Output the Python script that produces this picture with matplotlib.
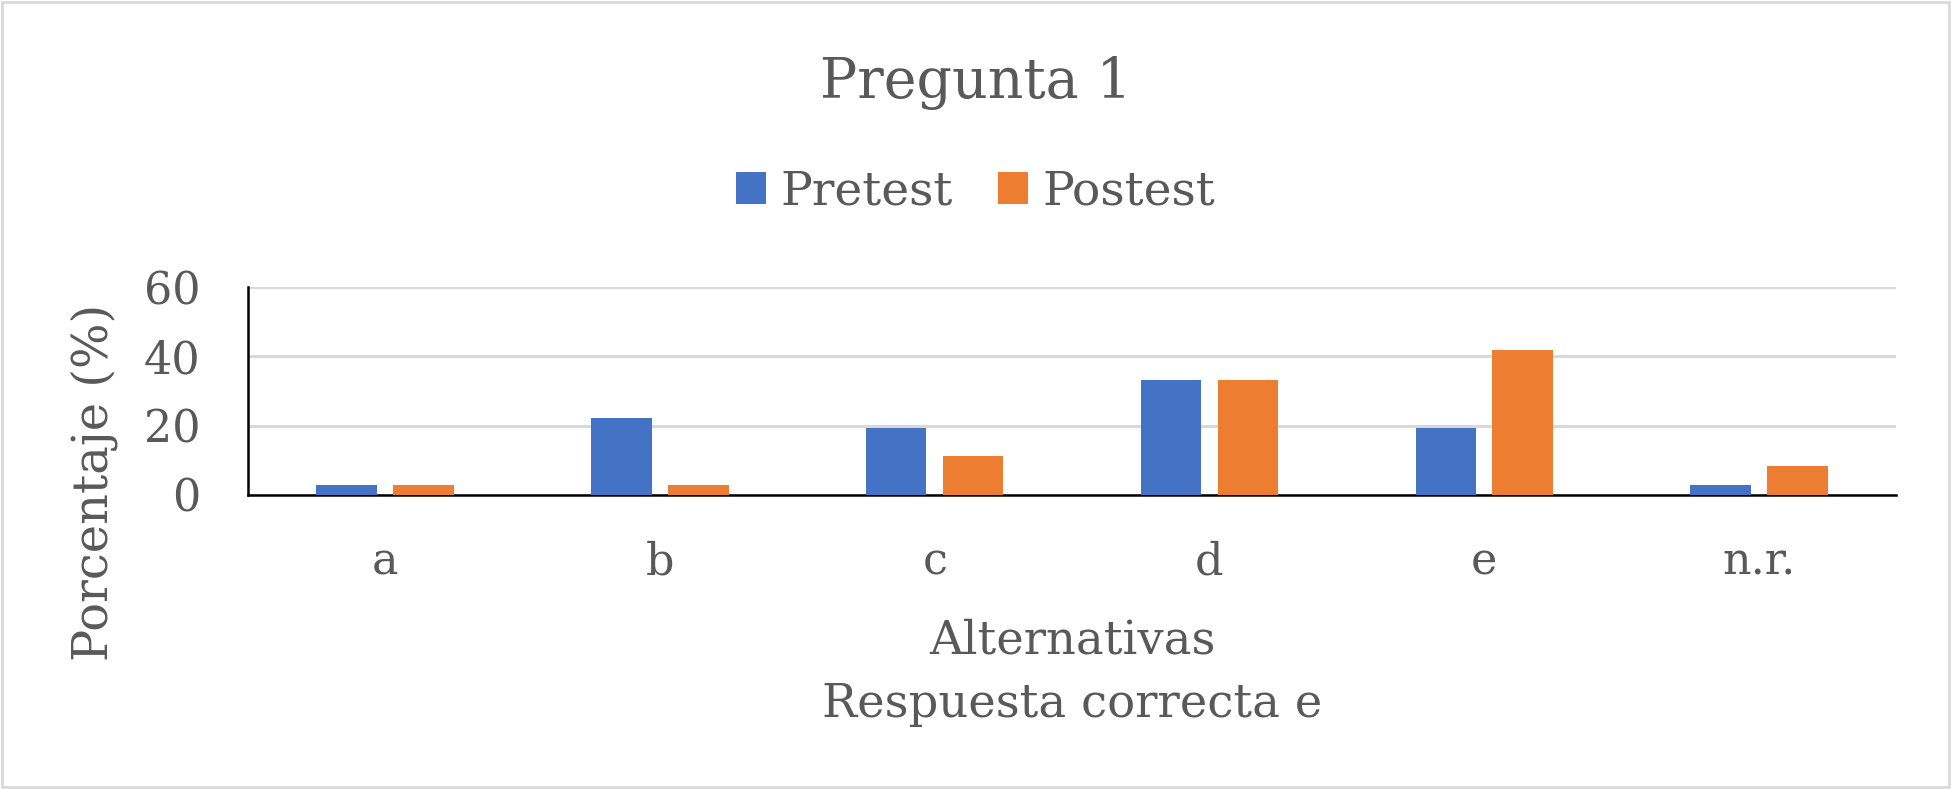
import matplotlib
matplotlib.use("Agg")
import matplotlib.pyplot as plt
import numpy as np

categories = ["a", "b", "c", "d", "e", "n.r."]
pretest = [2.8, 22.2, 19.4, 33.3, 19.4, 2.8]
postest = [2.8, 2.8, 11.1, 33.3, 41.7, 8.3]
yticks = [0, 20, 40, 60]

TXT = "#595959"
plt.rcParams['font.family'] = ['DejaVu Serif']

fig = plt.figure(figsize=(19.51, 7.89), dpi=100)
ax = fig.add_axes([0.127, 0.373, 0.845, 0.263])

x = np.arange(len(categories))
w = 0.22
ax.bar(x - 0.14, pretest, w, color="#4472C4", label="Pretest", zorder=3)
ax.bar(x + 0.14, postest, w, color="#ED7D31", label="Postest", zorder=3)

ax.set_xlim(-0.5, len(categories) - 0.5)
ax.set_ylim(0, 60)
ax.set_yticks(yticks)
ax.set_xticks(x)
ax.set_xticklabels(categories)
ax.yaxis.grid(True, color="#D9D9D9", linewidth=2.2, zorder=0)
ax.set_axisbelow(True)
for s in ["top", "right"]:
    ax.spines[s].set_visible(False)
ax.spines["left"].set_linewidth(1.8)
ax.spines["bottom"].set_linewidth(1.8)
ax.tick_params(axis="both", length=0, labelsize=32, colors=TXT)
ax.tick_params(axis="x", pad=33)
ax.tick_params(axis="y", pad=34)

ax.set_ylabel("Porcentaje (%)", fontsize=34.5, color=TXT)
ax.yaxis.set_label_coords(-0.079, 0.06)
ax.set_xlabel("Alternativas\nRespuesta correcta e", fontsize=33.5, color=TXT,
              linespacing=1.5)
ax.xaxis.set_label_coords(0.5, -0.596)

fig.text(0.5, 0.895, "Pregunta 1", ha="center", va="center", fontsize=40, color=TXT)
leg = fig.legend(loc="center", bbox_to_anchor=(0.5, 0.757), ncol=2, frameon=False,
                 fontsize=34, handlelength=0.65, handleheight=0.65, columnspacing=0.95,
                 handletextpad=0.3)
for t in leg.get_texts():
    t.set_color(TXT)

fig.patches.append(plt.Rectangle((0.001, 0.002), 0.998, 0.996, transform=fig.transFigure,
                                 fill=False, edgecolor="#D9D9D9", linewidth=2))
fig.savefig("out.png", dpi=100)
